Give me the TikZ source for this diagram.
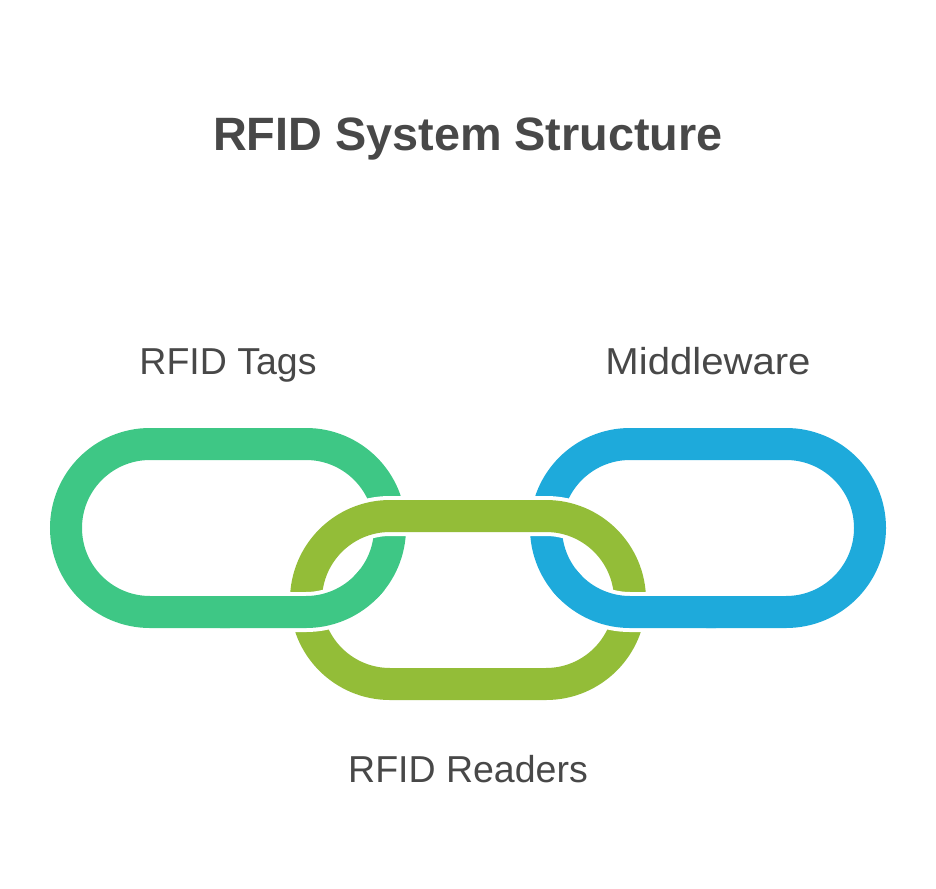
\documentclass[tikz,border=0pt]{standalone}
\usepackage{fontspec}
\setmainfont{Liberation Sans}
\definecolor{tagsgreen}{HTML}{3EC785}
\definecolor{readersolive}{HTML}{93BD38}
\definecolor{middlewareblue}{HTML}{1EAADB}
\definecolor{labelgray}{HTML}{484848}
\tikzset{
  linkband/.style={line width=32pt},
  linkhalo/.style={line width=40pt, white},
  linklabel/.style={anchor=base, text=labelgray, font=\fontsize{37.5}{40}\selectfont},
  titlelabel/.style={anchor=base, text=labelgray, font=\fontsize{46.8}{52}\selectfont\bfseries}
}
\begin{document}
\begin{tikzpicture}[x=1pt, y=-1pt]
  \useasboundingbox (0,0) rectangle (936,888);

  \node[titlelabel] (title) at (468,150) {RFID System Structure};
  \node[linklabel] (tags) at (228,374) {RFID Tags};
  \node[linklabel, xscale=1.07] (middleware) at (708,374) {Middleware};
  \node[linklabel] (readers) at (468,782) {RFID Readers};

  % outer links
  \draw[linkband, tagsgreen, rounded corners=84pt] (66,444) rectangle (390,612);
  \draw[linkband, middlewareblue, rounded corners=84pt] (546,444) rectangle (870,612);

  % middle link passes over both at the top
  \draw[linkhalo, rounded corners=84pt] (306,516) rectangle (630,684);
  \draw[linkband, readersolive, rounded corners=84pt] (306,516) rectangle (630,684);

  % outer links pass back over it at the bottom
  \draw[linkhalo] (230,612) -- (306,612) arc[start angle=90, end angle=45, radius=84];
  \draw[linkband, tagsgreen] (220,612) -- (306,612) arc[start angle=90, end angle=38, radius=84];
  \draw[linkhalo] (706,612) -- (630,612) arc[start angle=90, end angle=135, radius=84];
  \draw[linkband, middlewareblue] (716,612) -- (630,612) arc[start angle=90, end angle=142, radius=84];
\end{tikzpicture}
\end{document}
